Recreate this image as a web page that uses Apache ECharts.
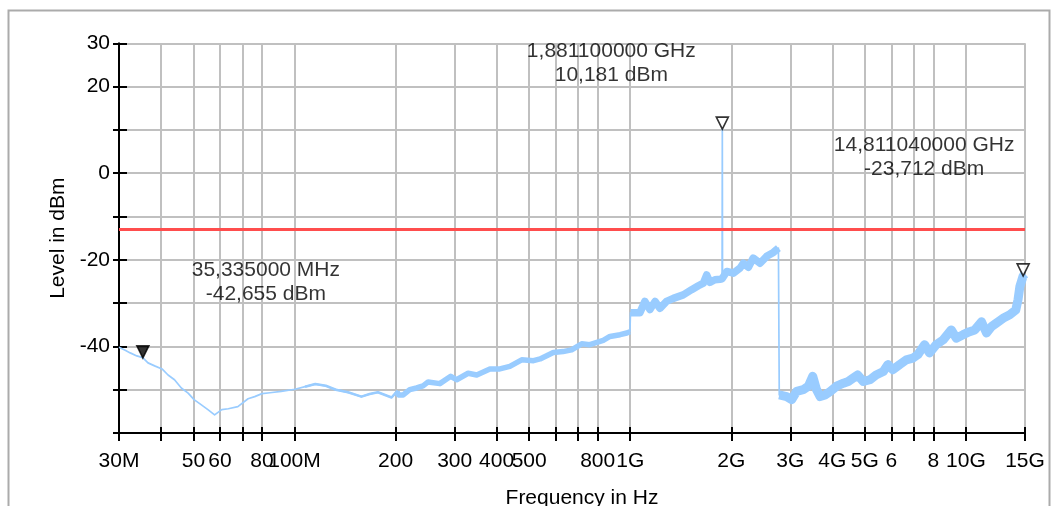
<!DOCTYPE html>
<html><head><meta charset="utf-8">
<script src="https://cdn.jsdelivr.net/npm/echarts@6/dist/echarts.min.js"></script>
<style>html,body{margin:0;padding:0;background:#fff}#c{width:1056px;height:506px}</style>
</head><body><div id="c"></div>
<script>
// ---- data ----
const traceFreqMHz = [
  30,31.3,32.4,33.9,35.3,36.6,38.3,40.3,42.0,43.9,
  46.0,48.2,50.2,52.8,55.2,57.8,60.7,63.5,67.8,72.7,
  76.1,80.0,84.5,91.3,100.3,107.5,115.3,123.9,132.8,144.3,
  158.2,167.4,177.2,194.6,202,203.8,210.8,220.4,231,241.5,
  250,271,292,304,329,349,382,409,438,475,
  515,539,590,631,669,717,758,831,870,933,
  977,998,1002,1069,1106,1145,1186,1226,1283,1344,
  1439,1524,1596,1652,1690,1727,1788,1851,1878,1881.1,
  1884,1939,2028,2125,2172,2250,2325,2437,2550,2670,
  2764,2780,2925,3027,3132,3275,3393,3497,3590,3680,
  3805,3942,4118,4318,4462,4617,4760,4947,5180,5400,
  5676,5858,6058,6347,6644,6951,7192,7530,7792,8160,
  8556,9045,9362,9807,10260,10630,11130,11520,11930,12340,
  12900,13510,14080,14300,14480,14811.04,15000];
const traceLevelDbm = [
  -40.2,-40.9,-41.5,-42.2,-42.6,-43.8,-44.5,-45.2,-46.6,-47.7,
  -49.6,-50.8,-52.3,-53.5,-54.6,-55.8,-54.6,-54.4,-53.9,-52.1,
  -51.6,-50.9,-50.7,-50.4,-49.9,-49.3,-48.7,-49.1,-50.0,-50.6,
  -51.6,-51.0,-50.6,-51.8,-50.4,-51.2,-51.2,-50.0,-49.6,-49.1,
  -48.2,-48.6,-46.9,-47.7,-46.2,-46.6,-45.2,-45.2,-44.6,-43.1,
  -43.3,-42.9,-41.4,-41.2,-40.8,-39.4,-39.6,-38.6,-37.7,-37.3,
  -36.9,-36.6,-32.2,-32.2,-29.6,-31.5,-29.6,-31.2,-29.6,-28.9,
  -28.1,-26.9,-26.0,-25.4,-23.5,-25.2,-24.6,-24.5,-24.4,10.181,
  -24.3,-22.7,-23.1,-21.9,-20.8,-21.7,-19.6,-20.8,-19.2,-18.3,
  -17.3,-51.2,-51.6,-52.3,-50.4,-50.0,-49.2,-46.9,-50.0,-51.6,
  -51.2,-50.4,-49.2,-48.5,-48.1,-47.3,-46.6,-48.1,-47.7,-46.6,
  -45.8,-44.2,-45.4,-44.2,-43.1,-42.7,-41.9,-39.6,-41.5,-39.6,
  -38.5,-36.2,-38.1,-37.3,-36.6,-36.2,-34.3,-36.9,-35.4,-34.6,
  -33.5,-32.7,-31.6,-29.2,-26.2,-23.712,-23.3];
const limitFreqMHz = [30, 15000];
const limitLevelDbm = [-13, -13];
const markerFreqMHz = [35.335, 1881.1, 14811.04];
const markerLevelDbm = [-42.655, 10.181, -23.712];
const markerFreqText = ['35,335000 MHz', '1,881100000 GHz', '14,811040000 GHz'];
const markerLevelText = ['-42,655 dBm', '10,181 dBm', '-23,712 dBm'];
const gridFreqMHz = [30,40,50,60,70,80,100,200,300,400,500,600,700,800,1000,2000,3000,4000,5000,6000,7000,8000,10000,15000];
const xTickFreqMHz = [30,50,60,80,100,200,300,400,500,800,1000,2000,3000,4000,5000,6000,8000,10000,15000];
const xTickLabels = ['30M','50','60','80','100M','200','300','400','500','800','1G','2G','3G','4G','5G','6','8','10G','15G'];
const yTickValues = [30,20,0,-20,-40];
const yTickLabels = ['30','20','0','-20','-40'];

// ---- styles ----
const FONT = 'Liberation Sans, Arial, sans-serif';
const TRACE = '#99ccff';
const GRIDC = '#c0c0c0';
const segments = [
  {from: 107, to: 205, width: 2.6},
  {from: 200, to: 1000, width: 5.5},
  {from: 1002, to: 2770, width: 7.5},
  {from: 2780, to: 15000, width: 9}
];
const markerFill = ['#000', '#fff', '#fff'];
const markerLabelOffset = [[123, -76], [-111, -66], [-99, -119]];

const lg = f => Math.log10(f * 1e6);
const xMin = lg(30), xMax = lg(15000);
const traceData = traceFreqMHz.map((f, i) => [lg(f), traceLevelDbm[i]]);
const peak = markerFreqMHz[1];

const series = [{
  type: 'line', data: traceData, showSymbol: false, symbol: 'none', silent: true,
  lineStyle: {color: TRACE, width: 1.7, join: 'round'}, z: 2
}];
segments.forEach(s => {
  const d = traceFreqMHz.map((f, i) => [f, traceLevelDbm[i]])
    .filter(p => p[0] >= s.from && p[0] <= s.to && p[0] !== peak)
    .map(p => [lg(p[0]), p[1]]);
  series.push({type: 'line', data: d, showSymbol: false, symbol: 'none', silent: true,
    lineStyle: {color: TRACE, width: s.width, join: 'round', cap: 'butt'}, z: 3});
});
series.push({
  type: 'line', data: limitFreqMHz.map((f, i) => [lg(f), limitLevelDbm[i]]),
  showSymbol: false, symbol: 'none', silent: true,
  lineStyle: {color: '#ff4d4d', width: 3}, z: 4
});
series.push({
  type: 'scatter', silent: true, z: 5,
  symbol: 'path://M0,0 L10,0 L5,10 Z', symbolSize: [12, 12], symbolOffset: [0, -6],
  data: markerFreqMHz.map((f, i) => ({
    value: [lg(f), markerLevelDbm[i]],
    itemStyle: {color: markerFill[i], borderColor: '#000', borderWidth: 1.6}
  }))
});
series.push({
  type: 'scatter', silent: true, z: 6, symbolSize: 0,
  data: markerFreqMHz.map((f, i) => ({
    value: [lg(f), markerLevelDbm[i]],
    label: {show: true, position: 'inside', offset: markerLabelOffset[i],
      formatter: markerFreqText[i] + '\n' + markerLevelText[i],
      fontFamily: FONT, fontSize: 21, lineHeight: 24, color: '#000', align: 'center', verticalAlign: 'middle'}
  }))
});

const xLabelFmt = v => {
  for (let i = 0; i < xTickFreqMHz.length; i++) if (Math.abs(lg(xTickFreqMHz[i]) - v) < 1e-6) return xTickLabels[i];
  return '';
};
const yLabelFmt = v => {
  const i = yTickValues.indexOf(Math.round(v));
  return i >= 0 && Math.abs(v - yTickValues[i]) < 1e-6 ? yTickLabels[i] : '';
};
const gridLogs = gridFreqMHz.map(lg);
const labelLogs = xTickFreqMHz.map(lg);

const chart = echarts.init(document.getElementById('c'), null, {renderer: 'canvas'});
chart.setOption({
  animation: false,
  backgroundColor: '#fff',
  textStyle: {fontFamily: FONT},
  graphic: [{type: 'rect', silent: true, z: -10,
    shape: {x: 8.5, y: 10.5, width: 1041, height: 530},
    style: {fill: 'none', stroke: '#ababab', lineWidth: 2}}],
  grid: {left: 119, right: 31, top: 43.3, bottom: 73, containLabel: false, outerBoundsMode: 'none'},
  xAxis: [{
    type: 'value', min: xMin, max: xMax, position: 'bottom',
    name: 'Frequency in Hz', nameLocation: 'middle', nameGap: 55,
    nameTextStyle: {fontFamily: FONT, fontSize: 21, color: '#000', padding: [0, 0, 0, 20]},
    axisLine: {show: true, onZero: false, lineStyle: {color: '#000', width: 2}},
    axisTick: {show: true, inside: false, length: 8, customValues: gridLogs, lineStyle: {color: '#000', width: 2}},
    axisLabel: {show: true, customValues: labelLogs, formatter: xLabelFmt, margin: 18, hideOverlap: false,
      fontFamily: FONT, fontSize: 21, color: '#000'},
    splitLine: {show: true, lineStyle: {color: GRIDC, width: 2}}
  }, {
    type: 'value', min: xMin, max: xMax, position: 'bottom',
    axisLine: {show: false, onZero: false},
    axisTick: {show: true, inside: true, length: 6, customValues: gridLogs, lineStyle: {color: '#000', width: 2}},
    axisLabel: {show: false}, splitLine: {show: false}
  }],
  yAxis: [{
    type: 'value', min: -60, max: 30, interval: 10,
    name: 'Level in dBm', nameLocation: 'middle', nameGap: 47, nameRotate: 90,
    nameTextStyle: {fontFamily: FONT, fontSize: 21, color: '#000'},
    axisLine: {show: true, onZero: false, lineStyle: {color: '#000', width: 2}},
    axisTick: {show: true, inside: false, length: 6, lineStyle: {color: '#000', width: 2}},
    axisLabel: {show: true, formatter: yLabelFmt, margin: 9, fontFamily: FONT, fontSize: 21, color: '#000', showMinLabel: true, showMaxLabel: true},
    splitLine: {show: true, lineStyle: {color: GRIDC, width: 2}}
  }, {
    type: 'value', min: -60, max: 30, interval: 10, position: 'left',
    axisLine: {show: false, onZero: false},
    axisTick: {show: true, inside: true, length: 8, lineStyle: {color: '#000', width: 2}},
    axisLabel: {show: false}, splitLine: {show: false}
  }],
  series: series
});
</script>
</body></html>
